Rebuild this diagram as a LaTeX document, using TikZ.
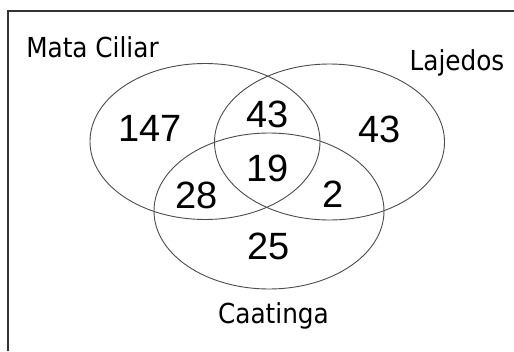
\documentclass[tikz,border=0pt]{standalone}
\usepackage{fontspec}
\usetikzlibrary{shapes.geometric}
\newfontfamily\lblfont{DejaVu Sans Condensed}
\newfontfamily\numfont{Liberation Sans}
\begin{document}
\begin{tikzpicture}[x=1pt,y=-1pt,
  setellipse/.style={ellipse, draw=black!70, line width=0.9pt, inner sep=0pt,
    minimum width=230pt, minimum height=156pt},
  setlabel/.style={anchor=base, inner sep=0pt, font=\lblfont\fontsize{27.5}{31}\selectfont},
  count/.style={anchor=center, inner sep=0pt, font=\numfont\fontsize{38}{42}\selectfont},
  frameline/.style={draw=black!80, line width=1.4pt}]
\useasboundingbox (0,0) rectangle (514,351);
\fill[white] (0,0) rectangle (514,351);
% frame (only top and left edges visible)
\coordinate (ftr) at (514,11);
\coordinate (ftl) at (8,11);
\coordinate (fbl) at (8,351);
\draw[frameline] (ftr) -- (ftl) -- (fbl);
% sets
\node[setellipse] (mata) at (205,141.5) {};
\node[setellipse] (laje) at (329.5,142) {};
\node[setellipse] (caat) at (269,211) {};
% labels
\node[setlabel] (lmata) at (92.5,57) {Mata Ciliar};
\node[setlabel] (llaje) at (457,70) {Lajedos};
\node[setlabel] (lcaat) at (273.5,323) {Caatinga};
% counts
\node[count] (n147) at (150,128) {147};
\node[count] (n43a) at (268,114) {43};
\node[count] (n43b) at (380,129) {43};
\node[count] (n19) at (268,168) {19};
\node[count] (n28) at (197,195) {28};
\node[count] (n2) at (333,194) {2};
\node[count] (n25) at (269,246) {25};
\end{tikzpicture}
\end{document}
